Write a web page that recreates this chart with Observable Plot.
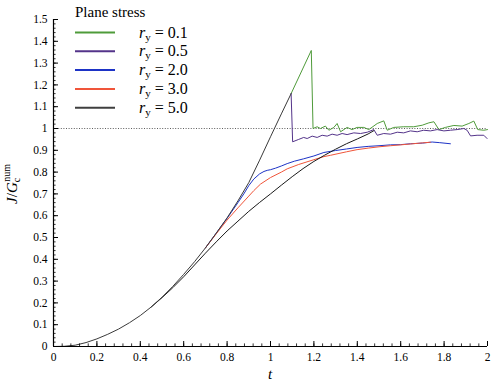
<!DOCTYPE html>
<html><head><meta charset="utf-8">
<script src="https://cdn.jsdelivr.net/npm/d3@7"></script>
<script src="https://cdn.jsdelivr.net/npm/@observablehq/plot@0.6"></script>
<style>
body{margin:0;background:#fff}
</style>
</head><body><div id="chart"></div>
<script>
// legend / series
const radii = ["0.1", "0.5", "2.0", "3.0", "5.0"];
const colors = ["#4f9b3a", "#54348a", "#1d33c6", "#f0553a", "#3f3f3f"];
const branchColor = "#3a3a3a";
const legendTitle = "Plane stress";

// shared loading branch (all runs coincide here)
const tBranch = [0, 0.05, 0.1, 0.15, 0.2, 0.25, 0.3, 0.35, 0.4, 0.45, 0.5, 0.55, 0.6, 0.65, 0.7, 0.75, 0.8, 0.85, 0.9, 0.95, 1.0, 1.05, 1.095];
const jBranch = [0, 0.001, 0.006, 0.018, 0.035, 0.056, 0.08, 0.109, 0.142, 0.181, 0.226, 0.276, 0.331, 0.389, 0.452, 0.52, 0.59, 0.668, 0.752, 0.855, 0.962, 1.067, 1.16];

// r_y = 0.1 (green), after leaving the shared branch
const t01 = [1.095, 1.188, 1.196, 1.215, 1.23, 1.253, 1.269, 1.292, 1.307, 1.323, 1.353, 1.376, 1.399, 1.43, 1.453, 1.492, 1.522, 1.538, 1.568, 1.614, 1.66, 1.699, 1.73, 1.753, 1.776, 1.806, 1.845, 1.883, 1.914, 1.937, 1.955, 1.983, 2.0];
const j01 = [1.16, 1.358, 1.0, 1.008, 1.0, 1.011, 0.992, 1.005, 1.023, 0.985, 1.005, 0.995, 1.005, 1.005, 0.995, 1.023, 1.035, 0.992, 1.005, 1.008, 1.008, 1.015, 1.026, 1.031, 0.995, 1.005, 1.014, 1.011, 1.023, 1.034, 0.995, 0.992, 0.995];

// r_y = 0.5 (purple)
const t05 = [1.095, 1.102, 1.13, 1.153, 1.169, 1.192, 1.215, 1.238, 1.261, 1.284, 1.307, 1.33, 1.353, 1.384, 1.415, 1.446, 1.476, 1.492, 1.522, 1.553, 1.584, 1.614, 1.645, 1.676, 1.706, 1.737, 1.768, 1.799, 1.829, 1.86, 1.891, 1.906, 1.922, 1.952, 1.983, 1.998];
const j05 = [1.16, 0.939, 0.95, 0.959, 0.954, 0.965, 0.959, 0.969, 0.965, 0.974, 0.969, 0.977, 0.972, 0.98, 0.977, 0.983, 0.995, 0.969, 0.977, 0.974, 0.983, 0.98, 0.989, 0.985, 0.992, 0.989, 0.995, 0.989, 0.992, 0.995, 1.0, 0.992, 0.966, 0.969, 0.969, 0.954];

// r_y = 2.0 (blue)
const t20 = [0.7, 0.75, 0.8, 0.85, 0.877, 0.9, 0.923, 0.95, 0.97, 0.985, 1.0, 1.023, 1.05, 1.077, 1.11, 1.153, 1.2, 1.246, 1.276, 1.3, 1.35, 1.399, 1.45, 1.5, 1.553, 1.6, 1.645, 1.7, 1.745, 1.78, 1.829];
const j20 = [0.452, 0.52, 0.588, 0.66, 0.7, 0.738, 0.768, 0.792, 0.803, 0.808, 0.811, 0.818, 0.828, 0.839, 0.85, 0.861, 0.874, 0.89, 0.895, 0.899, 0.906, 0.913, 0.918, 0.921, 0.925, 0.926, 0.93, 0.933, 0.938, 0.935, 0.93];

// r_y = 3.0 (red)
const t30 = [0.7, 0.75, 0.8, 0.85, 0.9, 0.923, 0.954, 1.0, 1.05, 1.077, 1.13, 1.2, 1.246, 1.276, 1.35, 1.399, 1.45, 1.5, 1.553, 1.6, 1.645, 1.7, 1.737];
const j30 = [0.452, 0.517, 0.58, 0.636, 0.69, 0.715, 0.745, 0.775, 0.8, 0.815, 0.835, 0.857, 0.871, 0.877, 0.893, 0.903, 0.91, 0.916, 0.921, 0.925, 0.929, 0.934, 0.937];

// r_y = 5.0 (black), leaves the shared branch earliest
const t50 = [0.45, 0.5, 0.55, 0.6, 0.65, 0.7, 0.75, 0.8, 0.85, 0.9, 0.95, 1.0, 1.05, 1.1, 1.15, 1.2, 1.25, 1.3, 1.35, 1.4, 1.45, 1.476];
const j50 = [0.181, 0.224, 0.27, 0.32, 0.374, 0.428, 0.48, 0.53, 0.575, 0.62, 0.661, 0.7, 0.74, 0.779, 0.816, 0.849, 0.878, 0.905, 0.93, 0.952, 0.975, 0.99];

// ticks
const xMajor = [0, 0.2, 0.4, 0.6, 0.8, 1, 1.2, 1.4, 1.6, 1.8, 2];
const yMajor = [0, 0.1, 0.2, 0.3, 0.4, 0.5, 0.6, 0.7, 0.8, 0.9, 1, 1.1, 1.2, 1.3, 1.4, 1.5];
const xMinor = d3.range(0, 51).map(i => i * 0.04);
const yMinor = d3.range(0, 76).map(i => i * 0.02);
const refLine = [1];

const W = 492, H = 386, mL = 53, mR = 5, mT = 19, mB = 40;
const plotW = W - mL - mR, plotH = H - mT - mB;
const FONT = "'Liberation Serif', 'DejaVu Serif', serif";

const rows = (tt, jj) => tt.map((t, i) => ({t, j: jj[i]}));
const seriesData = [rows(t01, j01), rows(t05, j05), rows(t20, j20), rows(t30, j30), rows(t50, j50)];
const lineColors = ["#4f9b3a", "#54348a", "#1d33c6", "#f0553a", "#1a1a1a"];

const fmt = d => String(+d.toFixed(2));

const marks = [
  Plot.ruleY(refLine, {y: d => d, stroke: "#333", strokeWidth: 0.8, strokeDasharray: "1,1.6"}),
  ...seriesData.map((r, i) => Plot.line(r, {x: "t", y: "j", stroke: lineColors[i], strokeWidth: 1})),
  Plot.line(rows(tBranch, jBranch), {x: "t", y: "j", stroke: branchColor, strokeWidth: 1}),
  Plot.ruleY([0], {stroke: "#000", strokeWidth: 1.2}),
  Plot.ruleX([0], {stroke: "#000", strokeWidth: 1.2}),
  Plot.tickX(xMajor, {x: d => d, insetTop: plotH - 5, stroke: "#000", strokeWidth: 1}),
  Plot.tickX(xMinor, {x: d => d, insetTop: plotH - 2.6, stroke: "#000", strokeWidth: 0.8}),
  Plot.tickY(yMajor, {y: d => d, insetRight: plotW - 5, stroke: "#000", strokeWidth: 1}),
  Plot.tickY(yMinor, {y: d => d, insetRight: plotW - 2.6, stroke: "#000", strokeWidth: 0.8}),
  Plot.axisX(xMajor, {tickSize: 0, tickPadding: 6, tickFormat: fmt, fontSize: 11.5, label: null, fontFamily: FONT}),
  Plot.axisY(yMajor, {tickSize: 0, tickPadding: 6, tickFormat: fmt, fontSize: 11.5, label: null, fontFamily: FONT})
];

const chart = Plot.plot({
  width: W, height: H,
  marginLeft: mL, marginRight: mR, marginTop: mT, marginBottom: mB,
  x: {domain: [0, 2], label: null},
  y: {domain: [0, 1.5], label: null},
  style: {fontFamily: FONT, fontSize: "11px", color: "#000", background: "#fff"},
  marks
});
document.getElementById("chart").appendChild(chart);

const svg = d3.select(chart);
// x label
svg.append("text").attr("x", 270).attr("y", 379).attr("text-anchor", "middle")
  .attr("font-size", 15).attr("font-style", "italic").text("t");
// y label
const yl = svg.append("text").attr("transform", "translate(17,184) rotate(-90)")
  .attr("text-anchor", "middle").attr("font-size", 15);
yl.append("tspan").attr("font-style", "italic").text("J");
yl.append("tspan").text("/");
yl.append("tspan").attr("font-style", "italic").text("G");
yl.append("tspan").attr("font-size", 10).attr("dy", 3).text("c");
yl.append("tspan").attr("font-size", 10).attr("dx", -4).attr("dy", -10).text("num");

// legend
svg.append("text").attr("x", 75).attr("y", 17).attr("text-anchor", "start")
  .attr("font-size", 15).text(legendTitle);
radii.forEach((r, i) => {
  const y = 32.5 + i * 18.8;
  svg.append("line").attr("x1", 75).attr("x2", 115).attr("y1", y).attr("y2", y)
    .attr("stroke", colors[i]).attr("stroke-width", 2);
  const tx = svg.append("text").attr("x", 139).attr("y", y + 5)
    .attr("text-anchor", "start").attr("font-size", 16);
  tx.append("tspan").attr("font-style", "italic").text("r");
  tx.append("tspan").attr("font-size", 11).attr("dy", 3).text("y");
  tx.append("tspan").attr("dy", -3).text(" = " + r);
});
svg.selectAll("text").style("font-family", FONT);
</script>
</body></html>
